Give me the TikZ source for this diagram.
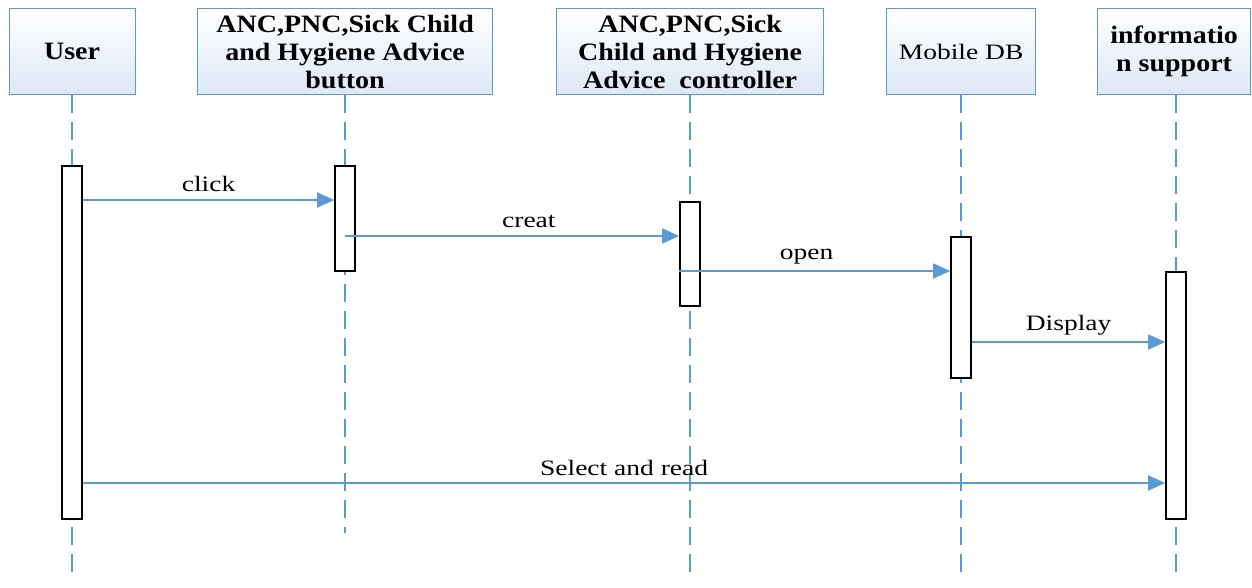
\documentclass[tikz,border=0pt]{standalone}
\usepackage{fontspec}
\setmainfont{Liberation Serif}
\newfontfamily\labfont[FakeStretch=1.25]{Liberation Serif}
\newfontfamily\headfont[FakeStretch=1.12]{Liberation Serif}
\usetikzlibrary{arrows.meta,calc}
\definecolor{lblue}{RGB}{91,155,213}
\definecolor{boxbot}{RGB}{220,232,245}
\tikzset{
  head/.style={draw=lblue, line width=1.2pt, top color=white, bottom color=boxbot,
    anchor=north west, align=center, inner sep=0pt,
    font=\headfont\fontsize{25}{28}\selectfont},
  life/.style={draw=lblue, line width=1.6pt, dash pattern=on 18pt off 9pt},
  act/.style={draw=black, line width=1.8pt, fill=white, minimum width=20pt,
    anchor=north, inner sep=0pt},
  msg/.style={draw=lblue, line width=1.6pt, -{Triangle[length=17pt,width=15pt]}},
  lab/.style={font=\labfont\fontsize{22}{26}\selectfont, inner sep=1pt}
}
\begin{document}
\begin{tikzpicture}[x=1pt,y=-1pt]
\useasboundingbox (0,0) rectangle (1252,587);
% headers
\node[head, minimum width=126pt, minimum height=86pt] (user) at (8.5,8) {\bfseries User};
\node[head, minimum width=295pt, minimum height=86pt] (btn) at (197,8) {\bfseries ANC,PNC,Sick Child\\\bfseries and Hygiene Advice\\\bfseries button};
\node[head, minimum width=267pt, minimum height=86pt] (ctrl) at (556,8) {\bfseries ANC,PNC,Sick\\\bfseries Child and Hygiene\\\bfseries Advice\ \ controller};
\node[head, minimum width=149pt, minimum height=86pt, font=\labfont\fontsize{22}{28}\selectfont] (mdb) at (886,8) {Mobile DB};
\node[head, minimum width=153pt, minimum height=86pt] (info) at (1097,8) {\bfseries informatio\\\bfseries n support};
% lifelines
\coordinate (endA) at (0,580);
\coordinate (endB) at (0,533);
\draw[life] (user.south) -- (user.south |- endA);
\draw[life] (btn.south) -- (btn.south |- endB);
\draw[life] (ctrl.south) -- (ctrl.south |- endA);
\draw[life] (mdb.south) -- (mdb.south |- endA);
\draw[life] ([xshift=2pt]info.south) -- ([xshift=2pt]info.south |- endA);
% activation bars
\node[act, minimum height=353pt] (uact) at (user.south |- 0,165) {};
\node[act, minimum height=105pt] (bact) at (btn.south |- 0,165) {};
\node[act, minimum height=104pt] (cact) at (ctrl.south |- 0,201) {};
\node[act, minimum height=141pt] (dact) at (mdb.south |- 0,236) {};
\node[act, minimum height=247pt] (iact) at ([xshift=2pt]info.south |- 0,271) {};
% message levels
\coordinate (y1) at (0,200);
\coordinate (y2) at (0,236);
\coordinate (y3) at (0,271);
\coordinate (y4) at (0,342);
\coordinate (y5) at (0,483);
% messages
\draw[msg] (uact.east |- y1) -- node[lab, above=6pt] {click} (bact.west |- y1);
\draw[msg] (bact.center |- y2) -- node[lab, above=6pt, pos=0.55] {creat} (cact.west |- y2);
\draw[msg] (cact.west |- y3) -- node[lab, above=5pt, pos=0.47] {open} (dact.west |- y3);
\draw[msg] (dact.east |- y4) -- node[lab, above=5pt] {Display} (iact.west |- y4);
\draw[msg] (uact.east |- y5) -- node[lab, above=5pt] {Select and read} (iact.west |- y5);
\end{tikzpicture}
\end{document}
